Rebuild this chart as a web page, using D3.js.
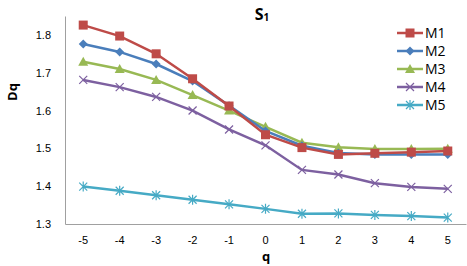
<!DOCTYPE html>
<html>
<head>
<meta charset="utf-8">
<script src="https://cdn.jsdelivr.net/npm/d3@7"></script>
<style>
body{margin:0;padding:0;background:#fff;}
svg{display:block;font-family:"Open Sans","Liberation Sans",sans-serif;}
</style>
</head>
<body>
<script>
// data
var qs = [-5,-4,-3,-2,-1,0,1,2,3,4,5];
var names = ["M1","M2","M3","M4","M5"];
var m1 = [1.826,1.797,1.750,1.684,1.612,1.536,1.502,1.484,1.487,1.490,1.493];
var m2 = [1.776,1.755,1.723,1.678,1.613,1.546,1.507,1.488,1.484,1.484,1.484];
var m3 = [1.729,1.710,1.681,1.641,1.600,1.557,1.515,1.503,1.498,1.498,1.499];
var m4 = [1.681,1.662,1.636,1.600,1.550,1.508,1.443,1.431,1.408,1.398,1.393];
var m5 = [1.399,1.388,1.376,1.364,1.352,1.340,1.327,1.328,1.324,1.321,1.317];
var yTicks = [1.3,1.4,1.5,1.6,1.7,1.8];

var width = 467, height = 266;
var plotLeft = 65, plotRight = 466, plotTop = 16, plotBottom = 224;
var colors = ["#BE4B48","#4A7EBB","#98B954","#7D60A0","#46AAC5"];
var series = [m1,m2,m3,m4,m5];

var svg = d3.select("body").append("svg")
    .attr("width",width)
    .attr("height",height);

var x = d3.scaleBand().domain(qs).range([plotLeft,plotRight]);
var y = d3.scaleLinear().domain([1.3,1.85]).range([plotBottom,plotTop]);

// axes
var yAxis = svg.append("g")
    .attr("transform","translate("+plotLeft+",0)")
    .call(d3.axisLeft(y).tickValues(yTicks).tickSize(0).tickPadding(14).tickFormat(d3.format(".1f")));
yAxis.select(".domain").attr("stroke","#a0a0a0");
yAxis.selectAll("text").attr("font-size",11).attr("fill","#000");

var xAxis = svg.append("g")
    .attr("transform","translate(0,"+plotBottom+")")
    .call(d3.axisBottom(x).tickSize(0).tickPadding(12));
xAxis.select(".domain").attr("stroke","#a0a0a0");
xAxis.selectAll("text").attr("font-size",11).attr("fill","#000");

// title and labels
var title = svg.append("text")
    .attr("x",262).attr("y",20)
    .attr("text-anchor","middle")
    .attr("font-weight","bold")
    .attr("font-size",16);
title.append("tspan").text("S");
title.append("tspan").attr("font-size",10).attr("dy",1).text("1");

svg.append("text")
    .attr("transform","translate(17,92) rotate(-90)")
    .attr("text-anchor","middle")
    .attr("font-weight","bold")
    .attr("font-size",13)
    .text("Dq");

svg.append("text")
    .attr("x",266).attr("y",261)
    .attr("text-anchor","middle")
    .attr("font-weight","bold")
    .attr("font-size",13)
    .text("q");

// markers
function drawMarker(g, i, cx, cy){
    var c = colors[i];
    if(i===0){
        g.append("rect").attr("x",cx-4.5).attr("y",cy-4.5).attr("width",9).attr("height",9).attr("fill",c);
    } else if(i===1){
        g.append("path").attr("d","M"+cx+","+(cy-4.5)+"L"+(cx+4.5)+","+cy+"L"+cx+","+(cy+4.5)+"L"+(cx-4.5)+","+cy+"Z").attr("fill",c);
    } else if(i===2){
        g.append("path").attr("d","M"+cx+","+(cy-5)+"L"+(cx+5)+","+(cy+4)+"L"+(cx-5)+","+(cy+4)+"Z").attr("fill",c);
    } else if(i===3){
        g.append("path").attr("d","M"+(cx-4)+","+(cy-4)+"L"+(cx+4)+","+(cy+4)+"M"+(cx-4)+","+(cy+4)+"L"+(cx+4)+","+(cy-4))
            .attr("stroke",c).attr("stroke-width",1.2).attr("fill","none");
    } else {
        g.append("path").attr("d","M"+(cx-4)+","+(cy-4)+"L"+(cx+4)+","+(cy+4)+"M"+(cx-4)+","+(cy+4)+"L"+(cx+4)+","+(cy-4)+"M"+cx+","+(cy-5)+"L"+cx+","+(cy+5))
            .attr("stroke",c).attr("stroke-width",1.2).attr("fill","none");
    }
}

var line = d3.line()
    .x(function(d,i){ return x(qs[i]) + x.bandwidth()/2; })
    .y(function(d){ return y(d); });

// draw back to front so M1 ends on top
for(var i = series.length-1; i >= 0; i--){
    var g = svg.append("g");
    g.append("path")
        .attr("d",line(series[i]))
        .attr("fill","none")
        .attr("stroke",colors[i])
        .attr("stroke-width",2.5);
    for(var j = 0; j < qs.length; j++){
        drawMarker(g, i, x(qs[j]) + x.bandwidth()/2, y(series[i][j]));
    }
}

// legend
for(var k = 0; k < names.length; k++){
    var ly = 33 + k*18;
    var lg = svg.append("g");
    lg.append("line").attr("x1",397).attr("x2",423).attr("y1",ly).attr("y2",ly)
        .attr("stroke",colors[k]).attr("stroke-width",2.5);
    drawMarker(lg, k, 410, ly);
    lg.append("text").attr("x",425).attr("y",ly+5)
        .attr("font-size",14).attr("fill","#000").text(names[k]);
}
</script>
</body>
</html>
